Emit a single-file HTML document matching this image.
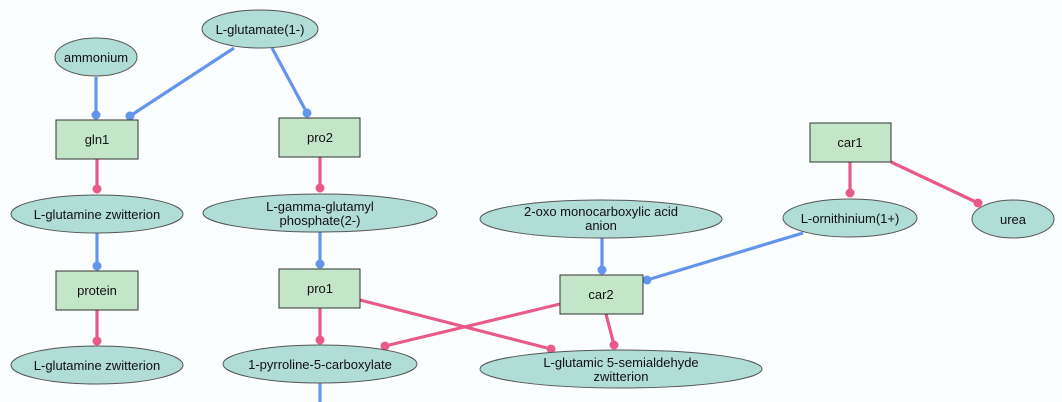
<!DOCTYPE html>
<html><head><meta charset="utf-8"><style>html,body{margin:0;padding:0;background:#fbfefe}svg{display:block}text{font-family:"Liberation Sans",sans-serif;font-size:13px;fill:#111;text-anchor:middle}</style></head><body>
<svg width="1062" height="402" viewBox="0 0 1062 402">
<g stroke-width="3.2" fill="none">
<g stroke="#6495ed">
<line x1="96" y1="77" x2="96" y2="115"/><line x1="234" y1="48" x2="130" y2="116"/><line x1="272" y1="48" x2="307" y2="113"/>
<line x1="97" y1="233" x2="97" y2="266"/><line x1="320" y1="232" x2="320" y2="264"/><line x1="320" y1="383" x2="320" y2="402"/>
<line x1="602" y1="238" x2="602" y2="270"/><line x1="803" y1="233" x2="647" y2="280"/>
</g>
<g stroke="#e85a8a">
<line x1="97" y1="159" x2="97" y2="189"/><line x1="320" y1="157" x2="320" y2="188"/><line x1="97" y1="310" x2="97" y2="341"/><line x1="320" y1="308" x2="320" y2="340"/>
<line x1="850" y1="162" x2="850" y2="193"/><line x1="891" y1="162" x2="978" y2="203"/>
<line x1="560" y1="304" x2="385" y2="346"/><line x1="606" y1="314" x2="614" y2="345"/><line x1="360" y1="300" x2="551" y2="349"/>
</g></g>
<g fill="#6495ed"><circle cx="96" cy="115" r="4.5"/><circle cx="130" cy="116" r="4.5"/><circle cx="307" cy="113" r="4.5"/><circle cx="97" cy="266" r="4.5"/><circle cx="320" cy="264" r="4.5"/><circle cx="602" cy="270" r="4.5"/><circle cx="647" cy="280" r="4.5"/></g>
<g fill="#e85a8a"><circle cx="97" cy="189" r="4.5"/><circle cx="320" cy="188" r="4.5"/><circle cx="97" cy="341" r="4.5"/><circle cx="320" cy="340" r="4.5"/><circle cx="850" cy="193" r="4.5"/><circle cx="978" cy="203" r="4.5"/><circle cx="385" cy="346" r="4.5"/><circle cx="614" cy="345" r="4.5"/><circle cx="551" cy="349" r="4.5"/></g>
<g fill="#b0ddd6" stroke="#555" stroke-width="1">
<ellipse cx="260" cy="29" rx="58" ry="19"/><ellipse cx="96" cy="57" rx="41" ry="19"/>
<ellipse cx="97" cy="214" rx="86" ry="19"/><ellipse cx="320" cy="213" rx="117" ry="19"/>
<ellipse cx="97" cy="365" rx="86" ry="19"/><ellipse cx="320" cy="364" rx="97" ry="19"/>
<ellipse cx="601" cy="219" rx="121" ry="19"/><ellipse cx="850" cy="218" rx="67" ry="19"/>
<ellipse cx="1013" cy="219" rx="41" ry="19"/><ellipse cx="621" cy="369" rx="141" ry="19"/>
</g>
<g fill="#c3e6c9" stroke="#333" stroke-width="1">
<rect x="56" y="120" width="82" height="39"/><rect x="279" y="118" width="81" height="39"/>
<rect x="56" y="271" width="82" height="39"/><rect x="279" y="269" width="81" height="39"/>
<rect x="810" y="123" width="81" height="39"/><rect x="560" y="275" width="83" height="39"/>
</g>
<text x="260" y="34">L-glutamate(1-)</text><text x="96" y="62">ammonium</text>
<text x="97" y="144">gln1</text><text x="320" y="142">pro2</text>
<text x="97" y="219">L-glutamine zwitterion</text>
<text x="320" y="211">L-gamma-glutamyl</text><text x="320" y="225">phosphate(2-)</text>
<text x="97" y="295">protein</text><text x="320" y="293">pro1</text>
<text x="97" y="370">L-glutamine zwitterion</text><text x="320" y="369">1-pyrroline-5-carboxylate</text>
<text x="850" y="147">car1</text><text x="601" y="299">car2</text>
<text x="601" y="216">2-oxo monocarboxylic acid</text><text x="601" y="230">anion</text>
<text x="850" y="223">L-ornithinium(1+)</text><text x="1013" y="224">urea</text>
<text x="621" y="367">L-glutamic 5-semialdehyde</text><text x="621" y="381">zwitterion</text>
</svg>
</body></html>
